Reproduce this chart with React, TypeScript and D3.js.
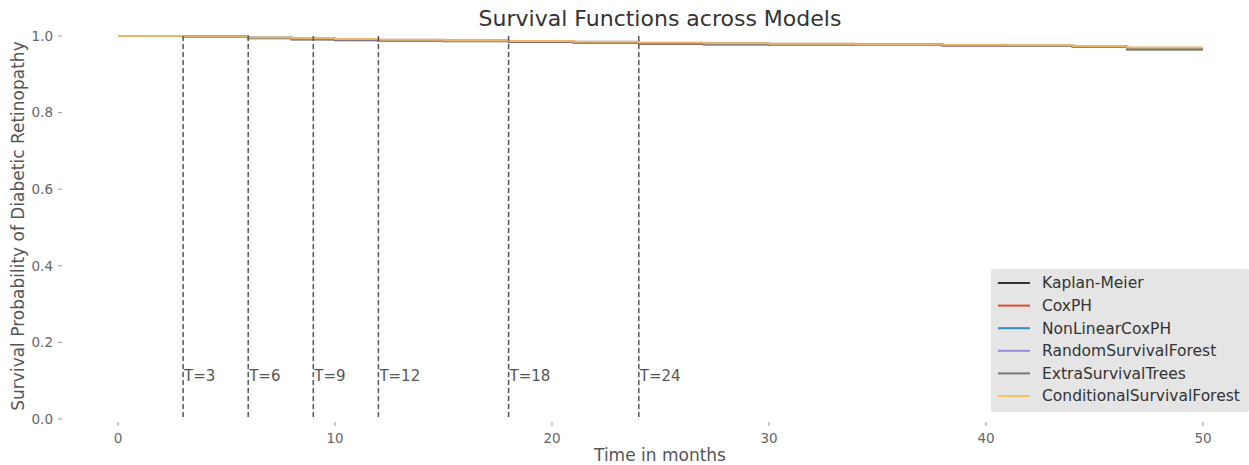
import { useEffect, useRef } from 'react'
import * as d3 from 'd3'

// months at which the step curves change
const months = [0, 3, 6, 8, 10, 12, 15, 18, 21, 24, 27, 30, 34, 38, 41, 44, 46.5, 50]

const kaplanMeier = [1.0, 0.998, 0.994, 0.991, 0.989, 0.988, 0.986, 0.985, 0.983, 0.98, 0.98, 0.978, 0.977, 0.976, 0.975, 0.972, 0.965, 0.965]
const coxPH = [1.0, 0.998, 0.995, 0.993, 0.99, 0.989, 0.987, 0.985, 0.983, 0.981, 0.977, 0.978, 0.977, 0.975, 0.974, 0.971, 0.967, 0.967]
const nonLinearCoxPH = [1.0, 0.999, 0.996, 0.993, 0.991, 0.989, 0.988, 0.986, 0.984, 0.982, 0.98, 0.979, 0.977, 0.976, 0.974, 0.972, 0.968, 0.968]
const randomSurvivalForest = [1.0, 0.999, 0.996, 0.994, 0.991, 0.99, 0.988, 0.987, 0.985, 0.982, 0.981, 0.979, 0.978, 0.976, 0.975, 0.973, 0.969, 0.969]
const extraSurvivalTrees = [1.0, 0.998, 0.995, 0.992, 0.99, 0.989, 0.987, 0.986, 0.984, 0.981, 0.98, 0.98, 0.977, 0.976, 0.974, 0.972, 0.966, 0.966]
const conditionalSurvivalForest = [1.0, 0.999, 0.996, 0.994, 0.992, 0.99, 0.988, 0.987, 0.985, 0.983, 0.981, 0.98, 0.978, 0.977, 0.976, 0.973, 0.97, 0.97]

const seriesNames = ['Kaplan-Meier', 'CoxPH', 'NonLinearCoxPH', 'RandomSurvivalForest', 'ExtraSurvivalTrees', 'ConditionalSurvivalForest']
const seriesValues = [kaplanMeier, coxPH, nonLinearCoxPH, randomSurvivalForest, extraSurvivalTrees, conditionalSurvivalForest]
const seriesColors = ['#333333', '#E24A33', '#348ABD', '#988ED5', '#777777', '#FBC15E']

const markerTimes = [3, 6, 9, 12, 18, 24]
const xTicks = [0, 10, 20, 30, 40, 50]
const yTicks = [0, 0.2, 0.4, 0.6, 0.8, 1.0]

const W = 1249
const H = 465
const FONT = 'DejaVu Sans, sans-serif'

export default function App() {
  const svgRef = useRef<SVGSVGElement>(null)

  useEffect(() => {
    if (!svgRef.current) return
    const svg = d3.select(svgRef.current)
    svg.selectAll('*').remove()

    const x = d3.scaleLinear().domain([0, 50]).range([118, 1203])
    const y = d3.scaleLinear().domain([0, 1]).range([419, 36])

    // title
    svg.append('text')
      .attr('x', 660).attr('y', 26)
      .attr('text-anchor', 'middle')
      .attr('font-family', FONT).attr('font-size', 22)
      .attr('fill', '#333')
      .text('Survival Functions across Models')

    // x ticks
    const xg = svg.append('g')
    xTicks.forEach(t => {
      xg.append('line')
        .attr('x1', x(t)).attr('x2', x(t)).attr('y1', 422).attr('y2', 426)
        .attr('stroke', '#999').attr('stroke-width', 1)
      xg.append('text')
        .attr('x', x(t)).attr('y', 443)
        .attr('text-anchor', 'middle')
        .attr('font-family', FONT).attr('font-size', 13.5)
        .attr('fill', '#666')
        .text(t)
    })

    // y ticks
    const yg = svg.append('g')
    yTicks.forEach(t => {
      yg.append('line')
        .attr('x1', 58).attr('x2', 62).attr('y1', y(t)).attr('y2', y(t))
        .attr('stroke', '#999').attr('stroke-width', 1)
      yg.append('text')
        .attr('x', 53).attr('y', y(t)).attr('dy', '0.35em')
        .attr('text-anchor', 'end')
        .attr('font-family', FONT).attr('font-size', 13.5)
        .attr('fill', '#666')
        .text(d3.format('.1f')(t))
    })

    // axis labels
    svg.append('text')
      .attr('x', 660).attr('y', 461)
      .attr('text-anchor', 'middle')
      .attr('font-family', FONT).attr('font-size', 17)
      .attr('fill', '#555')
      .text('Time in months')
    svg.append('text')
      .attr('transform', `translate(24,226) rotate(-90)`)
      .attr('text-anchor', 'middle')
      .attr('font-family', FONT).attr('font-size', 17)
      .attr('fill', '#555')
      .text('Survival Probability of Diabetic Retinopathy')

    // survival curves
    const line = d3.line<[number, number]>()
      .x(d => x(d[0]))
      .y(d => y(d[1]))
      .curve(d3.curveStepAfter)

    seriesValues.forEach((vals, i) => {
      const pts = months.map((m, j) => [m, vals[j]] as [number, number])
      svg.append('path')
        .attr('d', line(pts) ?? '')
        .attr('fill', 'none')
        .attr('stroke', seriesColors[i])
        .attr('stroke-width', 2)
        .attr('stroke-opacity', 0.85)
    })

    // vertical markers
    markerTimes.forEach(t => {
      svg.append('line')
        .attr('x1', x(t)).attr('x2', x(t))
        .attr('y1', y(1)).attr('y2', y(0))
        .attr('stroke', '#555').attr('stroke-width', 1.5)
        .attr('stroke-dasharray', '5,3')
      svg.append('text')
        .attr('x', x(t) + 1).attr('y', y(0.1))
        .attr('font-family', FONT).attr('font-size', 15)
        .attr('fill', '#555')
        .text(`T=${t}`)
    })

    // legend
    const lg = svg.append('g').attr('transform', 'translate(991,269)')
    lg.append('rect')
      .attr('width', 258).attr('height', 143)
      .attr('fill', '#e5e5e5').attr('rx', 2)
    seriesNames.forEach((name, i) => {
      const ly = 14 + i * 22.6
      lg.append('line')
        .attr('x1', 7).attr('x2', 39).attr('y1', ly).attr('y2', ly)
        .attr('stroke', seriesColors[i]).attr('stroke-width', 2)
      lg.append('text')
        .attr('x', 51).attr('y', ly).attr('dy', '0.35em')
        .attr('font-family', FONT).attr('font-size', 15.5)
        .attr('fill', '#333')
        .text(name)
    })
  }, [])

  return (
    <div style={{ position: 'absolute', left: 0, top: 0 }}>
      <svg ref={svgRef} width={W} height={H} style={{ display: 'block', background: '#fff' }} />
    </div>
  )
}
